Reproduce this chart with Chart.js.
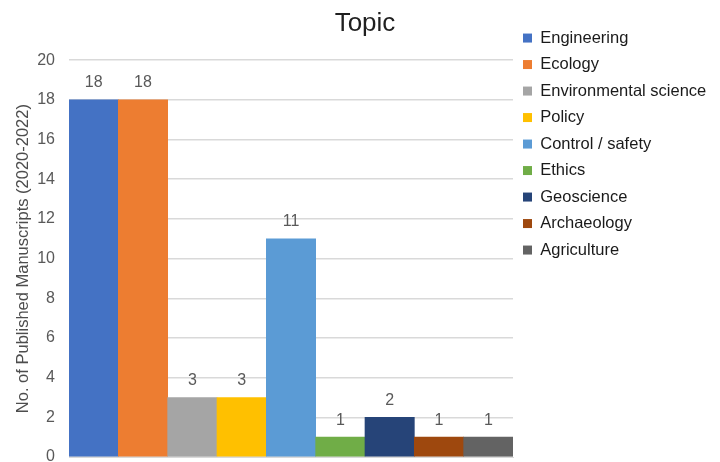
<!DOCTYPE html>
<html>
<head>
<meta charset="utf-8">
<script src="https://cdn.jsdelivr.net/npm/chart.js@4"></script>
<style>
    html, body { margin: 0; padding: 0; background: #fff; overflow: hidden; }
    #wrap { width: 720px; height: 467px; }
</style>
</head>
<body>
<div id="wrap"><canvas id="topicChart"></canvas></div>
<script>
const topics = ["Engineering", "Ecology", "Environmental science", "Policy", "Control / safety",
    "Ethics", "Geoscience", "Archaeology", "Agriculture"];
const manuscripts = [18, 18, 3, 3, 11, 1, 2, 1, 1];
const barColors = ["#4472C4", "#ED7D31", "#A5A5A5", "#FFC000", "#5B9BD5",
    "#70AD47", "#264478", "#9E480E", "#636363"];

const FONT = "'Liberation Sans', Arial, sans-serif";
Chart.defaults.font.family = FONT;

// value labels above each bar
const valueLabels = {
    id: "valueLabels",
    afterDatasetsDraw(chart) {
        const ctx = chart.ctx;
        const meta = chart.getDatasetMeta(0);
        ctx.save();
        ctx.font = "16px " + FONT;
        ctx.fillStyle = "#595959";
        ctx.textAlign = "center";
        ctx.textBaseline = "middle";
        meta.data.forEach((bar, i) => {
            ctx.fillText(manuscripts[i], bar.x, bar.y - 17);
        });
        ctx.restore();
    }
};

// keep the legend column at a fixed width so the plot ends where the original does
const legendWidth = {
    id: "legendWidth",
    afterInit(chart) {
        const lg = chart.legend;
        if (!lg) return;
        const fit = lg.fit.bind(lg);
        lg.fit = function () {
            fit();
            this.width = 207;
        };
    }
};

const ctx = document.getElementById("topicChart").getContext("2d");

new Chart(ctx, {
    type: "bar",
    data: {
        labels: topics,
        datasets: [{
            label: "Topic",
            data: manuscripts,
            backgroundColor: barColors,
            borderWidth: 0,
            categoryPercentage: 1,
            barPercentage: 1
        }]
    },
    options: {
        responsive: true,
        maintainAspectRatio: false,
        animation: false,
        layout: {
            padding: { left: 10, right: 0, bottom: 0 }
        },
        plugins: {
            title: {
                display: true,
                text: "Topic",
                color: "#1f1f1f",
                font: { size: 26, weight: "normal" },
                padding: { top: 8, bottom: 21 }
            },
            legend: {
                position: "right",
                align: "start",
                title: {
                    display: true,
                    text: " ",
                    font: { size: 14 },
                    padding: { top: 0, bottom: 3 }
                },
                labels: {
                    boxWidth: 9,
                    boxHeight: 9,
                    padding: 10,
                    color: "#1a1a1a",
                    font: { size: 16.5 },
                    generateLabels() {
                        return topics.map((t, i) => ({
                            text: t,
                            fillStyle: barColors[i],
                            strokeStyle: barColors[i],
                            fontColor: "#1a1a1a",
                            lineWidth: 0,
                            hidden: false,
                            index: i
                        }));
                    }
                },
                onClick() {}
            },
            tooltip: { enabled: false }
        },
        scales: {
            x: {
                ticks: { display: false },
                grid: { display: false, drawTicks: false },
                border: { color: "#d9d9d9" },
                afterFit(scale) {
                    scale.height = 0;
                }
            },
            y: {
                min: 0,
                max: 20,
                ticks: {
                    stepSize: 2,
                    color: "#595959",
                    font: { size: 16 },
                    padding: 14
                },
                grid: { color: "#d9d9d9", lineWidth: 1.5, drawTicks: false },
                border: { display: false },
                title: {
                    display: true,
                    text: "No. of Published Manuscripts (2020-2022)",
                    color: "#4d4d4d",
                    font: { size: 16.5 },
                    padding: { top: 4, bottom: 3 }
                },
                afterFit(scale) {
                    scale.width = 59;
                    scale.paddingBottom = 10;
                }
            }
        }
    },
    plugins: [valueLabels, legendWidth]
});
</script>
</body>
</html>
